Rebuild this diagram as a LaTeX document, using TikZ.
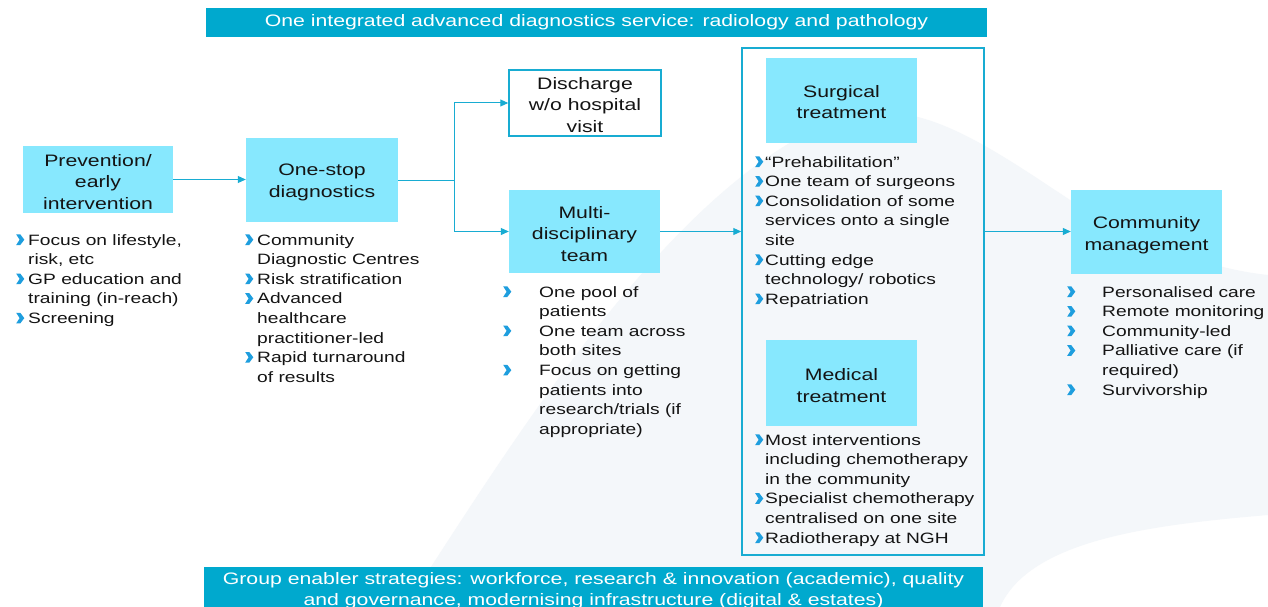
\documentclass[tikz,border=0pt]{standalone}
\usepackage{fontspec}
\setmainfont[FakeStretch=1.28]{Liberation Sans}
\usetikzlibrary{arrows.meta}
\definecolor{banner}{RGB}{0,169,206}
\definecolor{boxfill}{RGB}{135,232,254}
\definecolor{linec}{RGB}{24,172,210}
\definecolor{bulc}{RGB}{30,158,222}
\definecolor{wm}{RGB}{244,247,250}
\definecolor{txt}{RGB}{20,20,20}
\newsavebox{\bulbox}
\newcommand{\bul}{\usebox{\bulbox}}
\newcommand{\bi}[1]{\makebox[#1][l]{\bul}}
\begin{document}
\sbox{\bulbox}{\begin{pgfpicture}\pgfsetfillcolor{bulc}%
\pgfpathmoveto{\pgfpoint{0pt}{-0.3pt}}%
\pgfpathlineto{\pgfpoint{4.1pt}{-0.3pt}}%
\pgfpathlineto{\pgfpoint{8.1pt}{5pt}}%
\pgfpathlineto{\pgfpoint{4.1pt}{10.3pt}}%
\pgfpathlineto{\pgfpoint{0pt}{10.3pt}}%
\pgfpathlineto{\pgfpoint{3.4pt}{5pt}}%
\pgfpathclose\pgfusepath{fill}\end{pgfpicture}}%
\begin{tikzpicture}[x=1pt,y=-1pt,
  bx/.style={fill=boxfill, inner sep=0pt},
  bxt/.style={inner sep=0pt, align=center, font=\fontsize{16.6}{21.5}\selectfont, text=txt, yshift=-2.5pt},
  blist/.style={anchor=base west, inner sep=0pt, font=\fontsize{15}{19.6}\selectfont, text=txt},
  ban/.style={fill=banner, inner sep=0pt, align=center, text=white, font=\fontsize{16.6}{21}\selectfont},
  ln/.style={draw=linec, line width=1pt},
  arr/.style={draw=linec, line width=1pt, -{Triangle[length=8pt,width=7pt]}}]
\path[use as bounding box, fill=white] (0,0) rectangle (1268,607);
% faint watermark
\fill[wm] (405,607) .. controls (520,430) and (680,170) .. (850,115)
  .. controls (920,100) and (980,140) .. (1070,200)
  .. controls (1150,250) and (1220,270) .. (1268,275) -- (1268,515)
  .. controls (1150,525) and (1030,540) .. (1000,607) -- cycle;
% banners
\node[ban, minimum width=781, minimum height=29] (top) at (596.5,22.5) {One integrated advanced diagnostics service: radiology and pathology};
\node[ban, minimum width=779, minimum height=47, anchor=north] (bot) at (593.5,567) {Group enabler strategies: workforce, research \& innovation (academic), quality\\and governance, modernising infrastructure (digital \& estates)};
% frame
\node[draw=linec, line width=1.5pt, minimum width=242, minimum height=507, inner sep=0pt] (frame) at (863,301.5) {};
% boxes
\node[bx, minimum width=150, minimum height=67] (prev) at (98,179.5) {};
\node[bxt] (prevt) at (prev.center) {Prevention/\\early\\intervention};
\node[bx, minimum width=152, minimum height=84] (os) at (322,180) {};
\node[bxt] (ost) at (os.center) {One-stop\\diagnostics};
\node[bx, fill=white, draw=linec, line width=1.5pt, minimum width=152, minimum height=66] (dis) at (585,103) {};
\node[bxt, yshift=0.5pt] (dist) at (dis.center) {Discharge\\w/o hospital\\visit};
\node[bx, minimum width=151, minimum height=83] (mdt) at (584.5,231.5) {};
\node[bxt] (mdtt) at (mdt.center) {Multi-\\disciplinary\\team};
\node[bx, minimum width=151, minimum height=85] (surg) at (841.5,100.5) {};
\node[bxt, yshift=1pt] (surgt) at (surg.center) {Surgical\\treatment};
\node[bx, minimum width=151, minimum height=86] (med) at (841.5,383) {};
\node[bxt] (medt) at (med.center) {Medical\\treatment};
\node[bx, minimum width=151, minimum height=84] (comm) at (1146.5,231.5) {};
\node[bxt, yshift=-1pt] (commt) at (comm.center) {Community\\management};
% connectors
\coordinate (sp) at (454,180);
\draw[arr] (prev.east) -- (prev.east -| os.west);
\draw[ln] (os.east) -- (sp);
\draw[arr] (sp) |- (dis.west);
\draw[arr] (sp) |- (mdt.west);
\draw[arr] (mdt.east) -- (mdt.east -| frame.west);
\draw[arr] (frame.east |- comm.west) -- (comm.west);
% bullet lists
\node[blist] (lprev) at (16,245) {\begin{tabular}[t]{@{}l@{}l@{}}
\bi{12pt} & Focus on lifestyle,\\
 & risk, etc\\
\bi{12pt} & GP education and\\
 & training (in-reach)\\
\bi{12pt} & Screening
\end{tabular}};
\node[blist] (los) at (245,245) {\begin{tabular}[t]{@{}l@{}l@{}}
\bi{12pt} & Community\\
 & Diagnostic Centres\\
\bi{12pt} & Risk stratification\\
\bi{12pt} & Advanced\\
 & healthcare\\
 & practitioner-led\\
\bi{12pt} & Rapid turnaround\\
 & of results
\end{tabular}};
\node[blist] (lmdt) at (503,297) {\begin{tabular}[t]{@{}l@{}l@{}}
\bi{36pt} & One pool of\\
 & patients\\
\bi{36pt} & One team across\\
 & both sites\\
\bi{36pt} & Focus on getting\\
 & patients into\\
 & research/trials (if\\
 & appropriate)
\end{tabular}};
\node[blist] (lsurg) at (755,167) {\begin{tabular}[t]{@{}l@{}l@{}}
\bi{10pt} & “Prehabilitation”\\
\bi{10pt} & One team of surgeons\\
\bi{10pt} & Consolidation of some\\
 & services onto a single\\
 & site\\
\bi{10pt} & Cutting edge\\
 & technology/ robotics\\
\bi{10pt} & Repatriation
\end{tabular}};
\node[blist] (lmed) at (755,445) {\begin{tabular}[t]{@{}l@{}l@{}}
\bi{10pt} & Most interventions\\
 & including chemotherapy\\
 & in the community\\
\bi{10pt} & Specialist chemotherapy\\
 & centralised on one site\\
\bi{10pt} & Radiotherapy at NGH
\end{tabular}};
\node[blist] (lcomm) at (1067,297) {\begin{tabular}[t]{@{}l@{}l@{}}
\bi{35pt} & Personalised care\\
\bi{35pt} & Remote monitoring\\
\bi{35pt} & Community-led\\
\bi{35pt} & Palliative care (if\\
 & required)\\
\bi{35pt} & Survivorship
\end{tabular}};
\end{tikzpicture}
\end{document}
